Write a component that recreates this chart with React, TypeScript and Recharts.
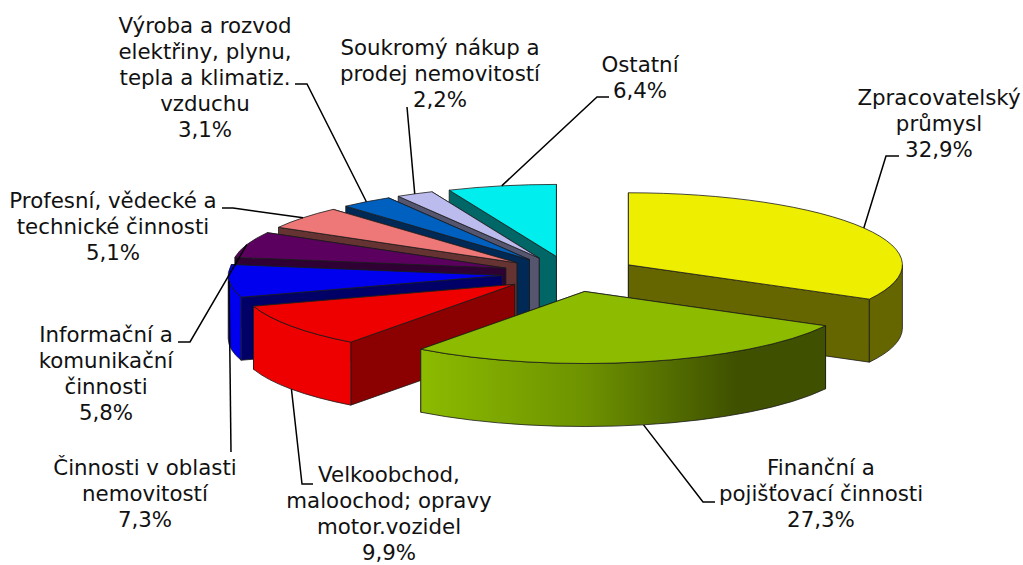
import { Pie, PieChart } from "recharts";

const sectors = [
  "Zpracovatelský průmysl",
  "Finanční a pojišťovací činnosti",
  "Velkoobchod, maloochod; opravy motor.vozidel",
  "Činnosti v oblasti nemovitostí",
  "Informační a komunikační činnosti",
  "Profesní, vědecké a technické činnosti",
  "Výroba a rozvod elektřiny, plynu, tepla a klimatiz. vzduchu",
  "Soukromý nákup a prodej nemovitostí",
  "Ostatní",
];
const shares = [32.9, 27.3, 9.9, 7.3, 5.8, 5.1, 3.1, 2.2, 6.4];
const labelLines = [
  ["Zpracovatelský", "průmysl"],
  ["Finanční a", "pojišťovací činnosti"],
  ["Velkoobchod,", "maloochod; opravy", "motor.vozidel"],
  ["Činnosti v oblasti", "nemovitostí"],
  ["Informační a", "komunikační", "činnosti"],
  ["Profesní, vědecké a", "technické činnosti"],
  ["Výroba a rozvod", "elektřiny, plynu,", "tepla a klimatiz.", "vzduchu"],
  ["Soukromý nákup a", "prodej nemovitostí"],
  ["Ostatní"],
];

const topColors = ["#EEEE00", "#8CBB00", "#EE0000", "#0000EE", "#5C0060", "#EE7777", "#0060BF", "#BBBBEE", "#00EEEE"];
const cutColors = ["#666600", "#3F5000", "#8B0000", "#000066", "#2E0033", "#663333", "#002A55", "#555570", "#006666"];
const wallColors = ["#666600", "url(#greenWall)", "#EE0000", "#0000EE", "#5C0060", "#EE7777", "#0060BF", "#BBBBEE", "#00EEEE"];

// painter's order, back slices first
const drawOrder = [0, 8, 7, 6, 5, 4, 3, 2, 1];

// label layout: text centre, first baseline, then leader points from the text towards the slice
const labelX = [939, 821, 389, 145, 106, 113, 205, 440, 640];
const labelY = [105, 475, 482, 475, 342, 208, 33, 55, 72];
const leaders = [
  [[899, 156], [886, 156]],
  [[715, 502], [703, 502]],
  [[313, 484], [302, 484]],
  [[231, 452]],
  [[178, 342], [190, 342]],
  [[222, 208], [233, 208]],
  [[295, 84], [307, 84]],
  [[407, 107]],
  [[609, 97], [597, 97]],
];

const CX = 570;
const CY = 274;
const RX = 274;
const TILT = 0.263; // squash of the pie ellipse
const DEPTH = 63;
const EXPLODE = 68;
const LINE_HEIGHT = 26;

const tableData = sectors.map((name, i) => ({ name, value: shares[i], idx: i }));

const rad = (a: number) => (a * Math.PI) / 180;

const apexOf = (mid: number) => ({
  x: CX + EXPLODE * Math.cos(rad(mid)),
  y: CY - EXPLODE * Math.sin(rad(mid)) * TILT,
});

const rimOf = (apex: { x: number; y: number }, a: number) => ({
  x: apex.x + RX * Math.cos(rad(a)),
  y: apex.y - RX * TILT * Math.sin(rad(a)),
});

const Slice3D = (props: any) => {
  const { startAngle, endAngle, payload } = props;
  const i = payload.idx;
  const ry = RX * TILT;
  const apex = apexOf((startAngle + endAngle) / 2);
  const a = rimOf(apex, startAngle);
  const b = rimOf(apex, endAngle);
  const line = { stroke: "#1c1c1c", strokeWidth: 0.8, strokeLinejoin: "round" as const };

  const cutFace = (p: { x: number; y: number }) =>
    `M${apex.x},${apex.y}L${p.x},${p.y}L${p.x},${p.y + DEPTH}L${apex.x},${apex.y + DEPTH}Z`;

  // the cut face nearer the viewer goes on top of the other one
  const [backCut, frontCut] = a.y < b.y ? [a, b] : [b, a];

  // outer wall only shows on the front half of the ellipse
  const wallFrom = Math.min(startAngle, 0);
  const wallTo = Math.max(endAngle, -180);
  let wall = null;
  if (wallFrom > wallTo) {
    const w1 = rimOf(apex, wallFrom);
    const w2 = rimOf(apex, wallTo);
    wall = `M${w1.x},${w1.y}A${RX},${ry} 0 0 1 ${w2.x},${w2.y}L${w2.x},${w2.y + DEPTH}A${RX},${ry} 0 0 0 ${w1.x},${w1.y + DEPTH}Z`;
  }

  const large = startAngle - endAngle > 180 ? 1 : 0;
  return (
    <g>
      <path d={cutFace(backCut)} fill={cutColors[i]} {...line} />
      <path d={cutFace(frontCut)} fill={cutColors[i]} {...line} />
      {wall && <path d={wall} fill={wallColors[i]} {...line} />}
      <path
        d={`M${apex.x},${apex.y}L${a.x},${a.y}A${RX},${ry} 0 ${large} 1 ${b.x},${b.y}Z`}
        fill={topColors[i]}
        {...line}
      />
    </g>
  );
};

const renderLabel = (props: any) => {
  const { index, midAngle } = props;
  const apex = apexOf(midAngle);
  const rim = rimOf(apex, midAngle);
  // leader hits the bottom edge of the wall on slices clearly in front
  const front = Math.sin(rad(midAngle)) < -0.2;
  const end = [rim.x, front ? rim.y + DEPTH : rim.y];
  const pts = [...leaders[index], end].map((p) => p.join(",")).join(" ");
  const lines = [...labelLines[index], shares[index].toFixed(1).replace(".", ",") + "%"];
  return (
    <g key={index}>
      <polyline points={pts} fill="none" stroke="#000" strokeWidth={1.5} />
      <text
        textAnchor="middle"
        fontFamily="DejaVu Sans"
        fontSize={21.33}
        fill="#111"
      >
        {lines.map((t, j) => (
          <tspan key={j} x={labelX[index]} y={labelY[index] + j * LINE_HEIGHT}>
            {t}
          </tspan>
        ))}
      </text>
    </g>
  );
};

const App = () => {
  return (
    <div style={{ position: "absolute", left: 0, top: 0, background: "#fff" }}>
      <PieChart width={1023} height={565} margin={{ top: 0, right: 0, bottom: 0, left: 0 }}>
        <defs>
          <linearGradient id="greenWall" x1="0" y1="0" x2="1" y2="0">
            <stop offset="0" stopColor="#8CBB00" />
            <stop offset="0.4" stopColor="#6E9300" />
            <stop offset="0.78" stopColor="#3F5000" />
            <stop offset="1" stopColor="#3F5000" />
          </linearGradient>
        </defs>
        {drawOrder.map((slice) => (
          <Pie
            key={slice}
            data={tableData}
            dataKey="value"
            nameKey="name"
            cx={CX}
            cy={CY}
            outerRadius={RX}
            startAngle={90}
            endAngle={-270}
            stroke="none"
            isAnimationActive={false}
            shape={(p: any) => (p.payload.idx === slice ? <Slice3D {...p} /> : <g />)}
          />
        ))}
        <Pie
          data={tableData}
          dataKey="value"
          nameKey="name"
          cx={CX}
          cy={CY}
          outerRadius={RX}
          startAngle={90}
          endAngle={-270}
          isAnimationActive={false}
          shape={() => <g />}
          label={renderLabel}
          labelLine={false}
        />
      </PieChart>
    </div>
  );
};

export default App;
